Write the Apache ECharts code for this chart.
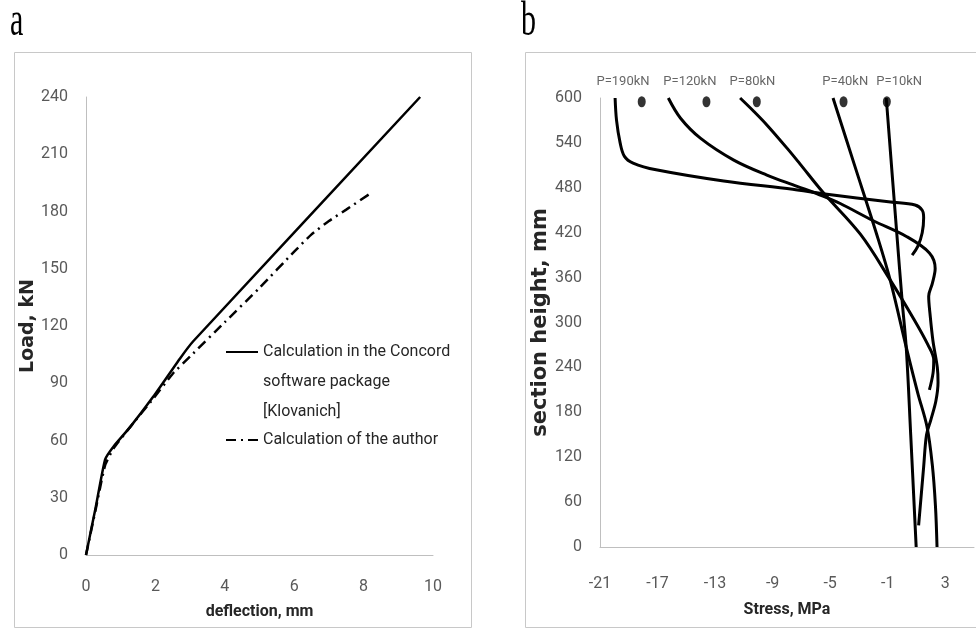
<!DOCTYPE html>
<html>
<head>
<meta charset="utf-8">
<script src="https://cdn.jsdelivr.net/npm/echarts@6/dist/echarts.min.js"></script>
<style>html,body{margin:0;padding:0;background:#fff}#main{width:976px;height:630px}</style>
</head>
<body>
<div id="main"></div>
<script>
// panel a: load - deflection
var concordName = 'Calculation in the Concord\nsoftware package\n[Klovanich]';
var authorName = 'Calculation of the author';
var concordDefl = [0, 0.28, 0.55, 0.8, 1.27, 1.94, 2.71, 3.09, 9.63];
var concordLoad = [0, 25, 50, 57, 67, 83, 103, 112, 240];
var authorDefl = [0, 0.28, 0.55, 0.8, 1.27, 1.94, 2.5, 3.0, 4.0, 5.0, 6.0, 6.5, 7.0, 7.5, 8.2];
var authorLoad = [0, 24, 47, 56, 67, 82, 95, 104, 122, 140, 159, 168, 175, 181, 189.5];

// panel b: stress over section height
var p190Stress = [-19.95, -19.85, -19.6, -19.3, -18.7, -17.1, -12.4, -7.6, -5.5, -0.8, 0.9, 1.4, 1.5, 1.4, 1.1, 0.7];
var p190Height = [600, 570, 540, 522, 513, 504, 489, 478, 472, 461, 457, 450, 440, 420, 402, 390];
var p120Stress = [-16.25, -15.4, -14.0, -11.7, -9.4, -7.3, -5.5, -4.3, -2.0, 0.3, 1.9, 2.3, 2.1, 1.85, 1.95, 2.15, 2.45, 2.5, 2.35, 2.0, 1.7, 1.5, 1.15];
var p120Height = [600, 573, 546, 517, 497, 482, 469, 459, 436, 415, 393, 372, 352, 335, 310, 275, 240, 220, 195, 170, 150, 107, 29];
var p80Stress = [-11.26, -10.3, -9.4, -8.0, -7.1, -5.5, -2.9, -0.83, 0.8, 1.8, 2.2, 2.15, 1.9];
var p80Height = [600, 582, 564, 533, 512, 474, 418, 357, 305, 270, 250, 232, 210];
var p40Stress = [-4.8, -3.3, -1.75, -0.83, 0.34, 1.1, 1.73, 2.1, 2.32, 2.43];
var p40Height = [600, 510, 417, 357, 263, 205, 161, 110, 55, 0];
var p10Stress = [-1.1, -0.36, 0.0, 0.3, 0.6, 0.98];
var p10Height = [600, 417, 330, 263, 150, 0];

var loadNames = ['P=190kN', 'P=120kN', 'P=80kN', 'P=40kN', 'P=10kN'];
var dotStress = [-18.1, -13.6, -10.1, -4.07, -1.06];
var dotHeight = 595;
var labelStress = [-19.4, -14.75, -10.4, -3.95, -0.2];
var labelHeight = 622;

function pairs(xs, ys) {
    return xs.map(function (x, i) { return [x, ys[i]]; });
}

var sans = 'Roboto, "Liberation Sans", sans-serif';
var tickLabel = {color: '#595959', fontSize: 16, fontFamily: sans};
var axisLine = {show: true, onZero: false, lineStyle: {color: '#bfbfbf', width: 1}};
var xName = {color: '#262626', fontSize: 16, fontWeight: 'bold', fontFamily: sans};

function bLine(xs, ys) {
    return {
        type: 'line', xAxisIndex: 1, yAxisIndex: 1,
        data: pairs(xs, ys), symbol: 'none', smooth: 0.35,
        lineStyle: {color: '#000', width: 3}
    };
}

var chart = echarts.init(document.getElementById('main'));
var option = {
    backgroundColor: '#fff',
    animation: false,
    grid: [
        {left: 86, top: 97, width: 347, height: 458},
        {left: 600, top: 98, width: 374, height: 449}
    ],
    xAxis: [
        {
            type: 'value', gridIndex: 0, min: 0, max: 10, interval: 2,
            name: 'deflection, mm', nameLocation: 'middle', nameGap: 49, nameTextStyle: xName,
            axisLine: axisLine, axisTick: {show: false}, splitLine: {show: false},
            axisLabel: Object.assign({margin: 24}, tickLabel)
        },
        {
            type: 'value', gridIndex: 1, min: -21, max: 5, interval: 4,
            name: 'Stress, MPa', nameLocation: 'middle', nameGap: 55, nameTextStyle: xName,
            axisLine: axisLine, axisTick: {show: false}, splitLine: {show: false},
            axisLabel: Object.assign({margin: 29, showMaxLabel: false}, tickLabel)
        }
    ],
    yAxis: [
        {
            type: 'value', gridIndex: 0, min: 0, max: 240, interval: 30,
            name: 'Load, kN', nameLocation: 'middle', nameRotate: 90, nameGap: 41,
            nameTextStyle: {color: '#262626', fontSize: 19, fontWeight: 'bold', fontFamily: '"DejaVu Sans", sans-serif'},
            axisLine: axisLine, axisTick: {show: false}, splitLine: {show: false},
            axisLabel: Object.assign({margin: 18}, tickLabel)
        },
        {
            type: 'value', gridIndex: 1, min: 0, max: 600, interval: 60,
            name: 'section height, mm', nameLocation: 'middle', nameRotate: 90, nameGap: 42,
            nameTextStyle: {color: '#262626', fontSize: 21, fontWeight: 'bold', fontFamily: '"DejaVu Sans", sans-serif'},
            axisLine: axisLine, axisTick: {show: false}, splitLine: {show: false},
            axisLabel: Object.assign({margin: 18}, tickLabel)
        }
    ],
    legend: {
        left: 225, top: 277, orient: 'vertical', padding: 0, itemGap: -2,
        itemWidth: 32, itemHeight: 14, selectedMode: false,
        itemStyle: {opacity: 0},
        textStyle: {fontSize: 16, fontFamily: sans, color: '#262626', lineHeight: 30},
        formatter: function (name) {
            // push the first entry's text so its first line sits beside the icon
            return name === concordName ? '\n\n' + name : name;
        },
        data: [concordName, authorName]
    },
    graphic: [
        {type: 'rect', z: -1, shape: {x: 14.5, y: 52.5, width: 457, height: 575},
            style: {fill: 'none', stroke: '#c8c8c8', lineWidth: 1}},
        {type: 'rect', z: -1, shape: {x: 525.5, y: 52.5, width: 470, height: 575},
            style: {fill: 'none', stroke: '#c8c8c8', lineWidth: 1}},
        {type: 'text', x: 10, y: 22, scaleY: 1.6,
            style: {text: 'a', font: '30px "Liberation Serif"', fill: '#000', verticalAlign: 'middle'}},
        {type: 'text', x: 521, y: 22, scaleY: 1.6,
            style: {text: 'b', font: '30px "Liberation Serif"', fill: '#000', verticalAlign: 'middle'}}
    ],
    series: [
        {
            name: concordName, type: 'line', xAxisIndex: 0, yAxisIndex: 0,
            data: pairs(concordDefl, concordLoad), symbol: 'none', smooth: 0.15,
            lineStyle: {color: '#000', width: 2.5}, itemStyle: {color: '#000'}
        },
        {
            name: authorName, type: 'line', xAxisIndex: 0, yAxisIndex: 0,
            data: pairs(authorDefl, authorLoad), symbol: 'none', smooth: 0.15,
            lineStyle: {color: '#000', width: 2.5, type: [10, 5, 2, 5]}, itemStyle: {color: '#000'}
        },
        bLine(p190Stress, p190Height),
        bLine(p120Stress, p120Height),
        bLine(p80Stress, p80Height),
        bLine(p40Stress, p40Height),
        bLine(p10Stress, p10Height),
        {
            type: 'scatter', xAxisIndex: 1, yAxisIndex: 1, clip: false,
            data: dotStress.map(function (x) { return [x, dotHeight]; }),
            symbol: 'circle', symbolSize: [8, 11], itemStyle: {color: '#000'}
        },
        {
            type: 'scatter', xAxisIndex: 1, yAxisIndex: 1, clip: false, silent: true,
            data: labelStress.map(function (x, i) { return {name: loadNames[i], value: [x, labelHeight]}; }),
            symbolSize: 1, itemStyle: {color: 'rgba(0,0,0,0)'},
            label: {show: true, position: 'inside', formatter: '{b}', color: '#404040', fontSize: 13, fontFamily: sans}
        }
    ]
};
chart.setOption(option);
</script>
</body>
</html>
